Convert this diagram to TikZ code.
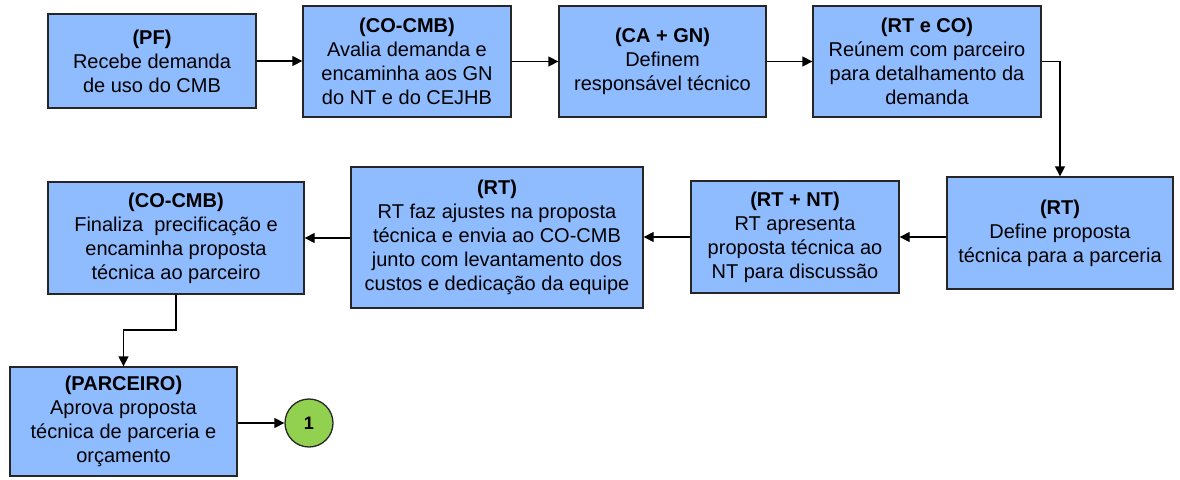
\documentclass[tikz,border=0pt]{standalone}
\usepackage{fontspec}
\setmainfont{Liberation Sans}
\usetikzlibrary{arrows.meta}
\definecolor{boxblue}{RGB}{143,187,255}
\definecolor{circgreen}{RGB}{146,208,80}
\begin{document}
\begin{tikzpicture}[x=1pt,y=-1pt,
  stepbox/.style={draw=black!85, line width=1.3pt, fill=boxblue, align=center, inner sep=0pt,
    font=\fontsize{20}{24}\selectfont},
  flow/.style={draw=black, line width=1.3pt, -{Triangle[length=10pt,width=10pt]}}]
\useasboundingbox (0,0) rectangle (1180,479);
\node[stepbox, minimum width=208pt, minimum height=94pt] (n1) at (152,61)
  {\textbf{(PF)}\\Recebe demanda\\de uso do CMB};
\node[stepbox, minimum width=208pt, minimum height=111pt] (n2) at (407,61.5)
  {\textbf{(CO-CMB)}\\Avalia demanda e\\encaminha aos GN\\do NT e do CEJHB};
\node[stepbox, minimum width=207pt, minimum height=111pt] (n3) at (662.5,61.5)
  {\textbf{(CA + GN)}\\Definem\\responsável técnico};
\node[stepbox, minimum width=228pt, minimum height=111pt] (n4) at (927,61.5)
  {\textbf{(RT e CO)}\\Reúnem com parceiro\\para detalhamento da\\demanda};
\node[stepbox, minimum width=226pt, minimum height=112pt] (n5) at (1060,233)
  {\textbf{(RT)}\\Define proposta\\técnica para a parceria};
\node[stepbox, minimum width=208pt, minimum height=112pt] (n6) at (795,237)
  {\textbf{(RT + NT)}\\RT apresenta\\proposta técnica ao\\NT para discussão};
\node[stepbox, minimum width=292pt, minimum height=141pt] (n7) at (497,237.5)
  {\textbf{(RT)}\\RT faz ajustes na proposta\\técnica e envia ao CO-CMB\\junto com levantamento dos\\custos e dedicação da equipe};
\node[stepbox, minimum width=256pt, minimum height=112pt] (n8) at (176,238)
  {\textbf{(CO-CMB)}\\Finaliza\ \ precificação e\\encaminha proposta\\técnica ao parceiro};
\node[stepbox, minimum width=227pt, minimum height=109pt] (n9) at (123.5,421.5)
  {\textbf{(PARCEIRO)}\\Aprova proposta\\técnica de parceria e\\orçamento};
\node[circle, draw=black!85, line width=1.3pt, fill=circgreen, minimum size=48pt, inner sep=0pt,
  font=\bfseries\fontsize{18}{20}\selectfont] (c1) at (309,423) {1};
\draw[flow] (n1.east) -- (n1.east -| n2.west);
\draw[flow] (n2.east) -- (n2.east -| n3.west);
\draw[flow] (n3.east) -- (n3.east -| n4.west);
\draw[flow] (n4.east) -| (n5.north);
\draw[flow] (n6.east -| n5.west) -- (n6.east);
\draw[flow] (n6.west) -- (n6.west -| n7.east);
\draw[flow] (n7.west |- n8.east) -- (n8.east);
\coordinate (bend) at (176,330);
\draw[flow] (n8.south) -- (bend) -| (n9.north);
\draw[flow] (n9.east |- c1.west) -- (c1.west);
\end{tikzpicture}
\end{document}
